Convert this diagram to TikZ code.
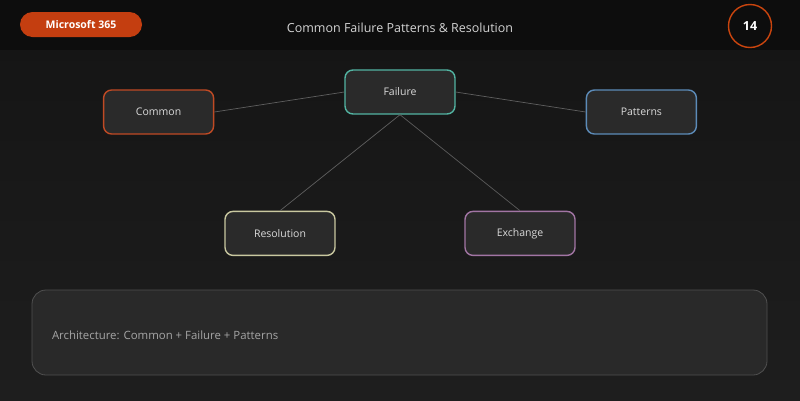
\documentclass[tikz,border=0pt]{standalone}
\usepackage{fontspec}
\setmainfont{Open Sans}
\usetikzlibrary{positioning,calc}

\definecolor{bgdark}{HTML}{141414}
\definecolor{bgmid}{HTML}{1E1E1E}
\definecolor{msorange}{HTML}{C43E10}
\definecolor{boxfill}{HTML}{2A2A2A}
\definecolor{linegray}{HTML}{5E5E5E}
\definecolor{txtlight}{HTML}{E2E2E2}
\definecolor{cCommon}{HTML}{C04A24}
\definecolor{cFailure}{HTML}{52B4A2}
\definecolor{cPatterns}{HTML}{5C8BB8}
\definecolor{cResol}{HTML}{C9C8A0}
\definecolor{cExch}{HTML}{A275A4}

\begin{document}
\begin{tikzpicture}[x=1pt,y=-1pt,node distance=2em,thick]
\tikzstyle{every node}=[font=\fontsize{10.5}{12}\selectfont]
\tikzstyle{topic}=[draw,rounded corners=8pt,fill=boxfill,line width=1.4pt,minimum width=110pt,minimum height=44pt,text=txtlight!92!gray,inner sep=0pt]
\tikzstyle{link}=[draw=linegray,line width=0.7pt]
\useasboundingbox (0,0) rectangle (800,400);
% background
\path[top color=bgdark,bottom color=bgmid] (0,0) rectangle (800,400);
\path[fill=black,opacity=0.35] (0,0) rectangle (800,50);
% header
\path node[fill=msorange,rounded corners=12.5pt,minimum width=122pt,minimum height=25pt,inner sep=0pt,text=white,font=\fontsize{10.5}{12}\selectfont\bfseries] (ms) at (81,24.5) {Microsoft 365};
\path node[text=txtlight!85!gray,font=\fontsize{12.5}{14}\selectfont] (title) at (400,28) {Common Failure Patterns \& Resolution};
\path node[circle,draw=msorange!90!orange,line width=1.4pt,minimum size=43pt,inner sep=0pt,text=white,font=\fontsize{12.5}{14}\selectfont\bfseries] (num) at (750,26) {14};

% topic nodes
\path node[topic,draw=cFailure] (f) at (400,92) {Failure};
\path node[topic,draw=cCommon,left=130pt of f,yshift=-20pt] (c) {Common};
\path node[topic,draw=cPatterns,right=130pt of f,yshift=-20pt] (p) {Patterns};
\path node[topic,draw=cResol,below=96pt of f,xshift=-120pt] (r) {Resolution};
\path node[topic,draw=cExch,below=96pt of f,xshift=120pt] (e) {Exchange};

\path[link] (f.west) edge (c.east);
\path[link] (f.east) edge (p.west);
\path[link] (f.south) edge (r.north);
\path[link] (f.south) edge (e.north);

% summary panel
\path node[draw=white!22!bgmid,fill=white!5!bgmid,line width=0.8pt,rounded corners=14pt,minimum width=735pt,minimum height=85pt,inner sep=0pt] (panel) at (399.5,332.5) {};
\path node[anchor=west,text=white!60!bgmid,font=\fontsize{11.4}{13}\selectfont,inner sep=0pt] (sum) at ($(panel.west)+(20,3)$) {Architecture: Common + Failure + Patterns};
\end{tikzpicture}
\end{document}
